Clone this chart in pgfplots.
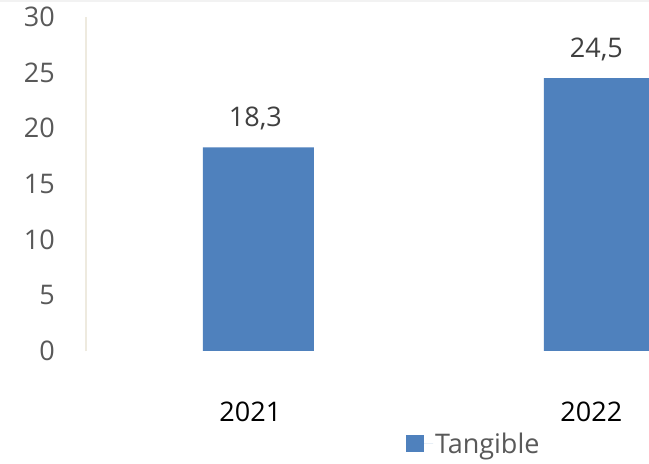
\documentclass[border=0pt]{standalone}
\usepackage{pgfplots}
\pgfplotsset{compat=1.18}
\usepackage{fontspec}
\setmainfont{Open Sans}
\definecolor{barblue}{HTML}{4F81BD}
\definecolor{ticktext}{HTML}{595959}
\definecolor{datatext}{HTML}{404040}
\definecolor{axisbeige}{HTML}{EEEADF}
\newcommand{\bigf}{\fontsize{27bp}{32bp}\selectfont}
\begin{document}
\begin{tikzpicture}
\path[use as bounding box] (0,0) rectangle (649bp,464bp);
\fill[white] (0,0) rectangle (649bp,464bp);
\draw[color=black!5, line width=2bp] (0,463bp) -- (649bp,463bp);
\begin{axis}[
  at={(86bp,113bp)}, anchor=south west,
  scale only axis, width=563bp, height=334bp,
  xmin=-0.482, xmax=1.169, ymin=0, ymax=30,
  ybar, bar width=111bp,
  xtick={0,1}, xticklabels={2021,2022},
  ytick={0,5,10,15,20,25,30},
  major tick length=0pt,
  tick style={draw=none},
  separate axis lines,
  axis x line*=bottom, axis y line*=left,
  x axis line style={draw=none},
  y axis line style={draw=axisbeige, line width=1.5bp},
  /pgf/number format/assume math mode=true,
  yticklabel style={font=\bigf, text=ticktext, anchor=east, inner sep=0pt, xshift=-31bp},
  xticklabel style={font=\bigf, text=black, anchor=north, inner sep=0pt, yshift=-51bp},
  legend style={at={(0.5684,-0.2784)}, anchor=west, draw=none, fill=none, inner sep=0pt, outer sep=0pt, font=\bigf, text=ticktext},
  legend image code/.code={\fill[barblue] (0bp,-8.5bp) rectangle (18bp,8.5bp); \path (18bp,0) -- (27bp,0);},
]
\addplot[ybar, bar shift=8bp, fill=barblue, draw=none,
  nodes near coords={\pgfmathprintnumber[use comma,fixed,fixed zerofill,precision=1]{\pgfplotspointmeta}},
  every node near coord/.append style={font=\bigf, text=datatext, anchor=base, inner sep=0pt, yshift=21bp, xshift=-3bp}]
  coordinates {(0,18.3) (1,24.5)};
\addlegendentry{Tangible}
\end{axis}
\end{tikzpicture}
\end{document}
